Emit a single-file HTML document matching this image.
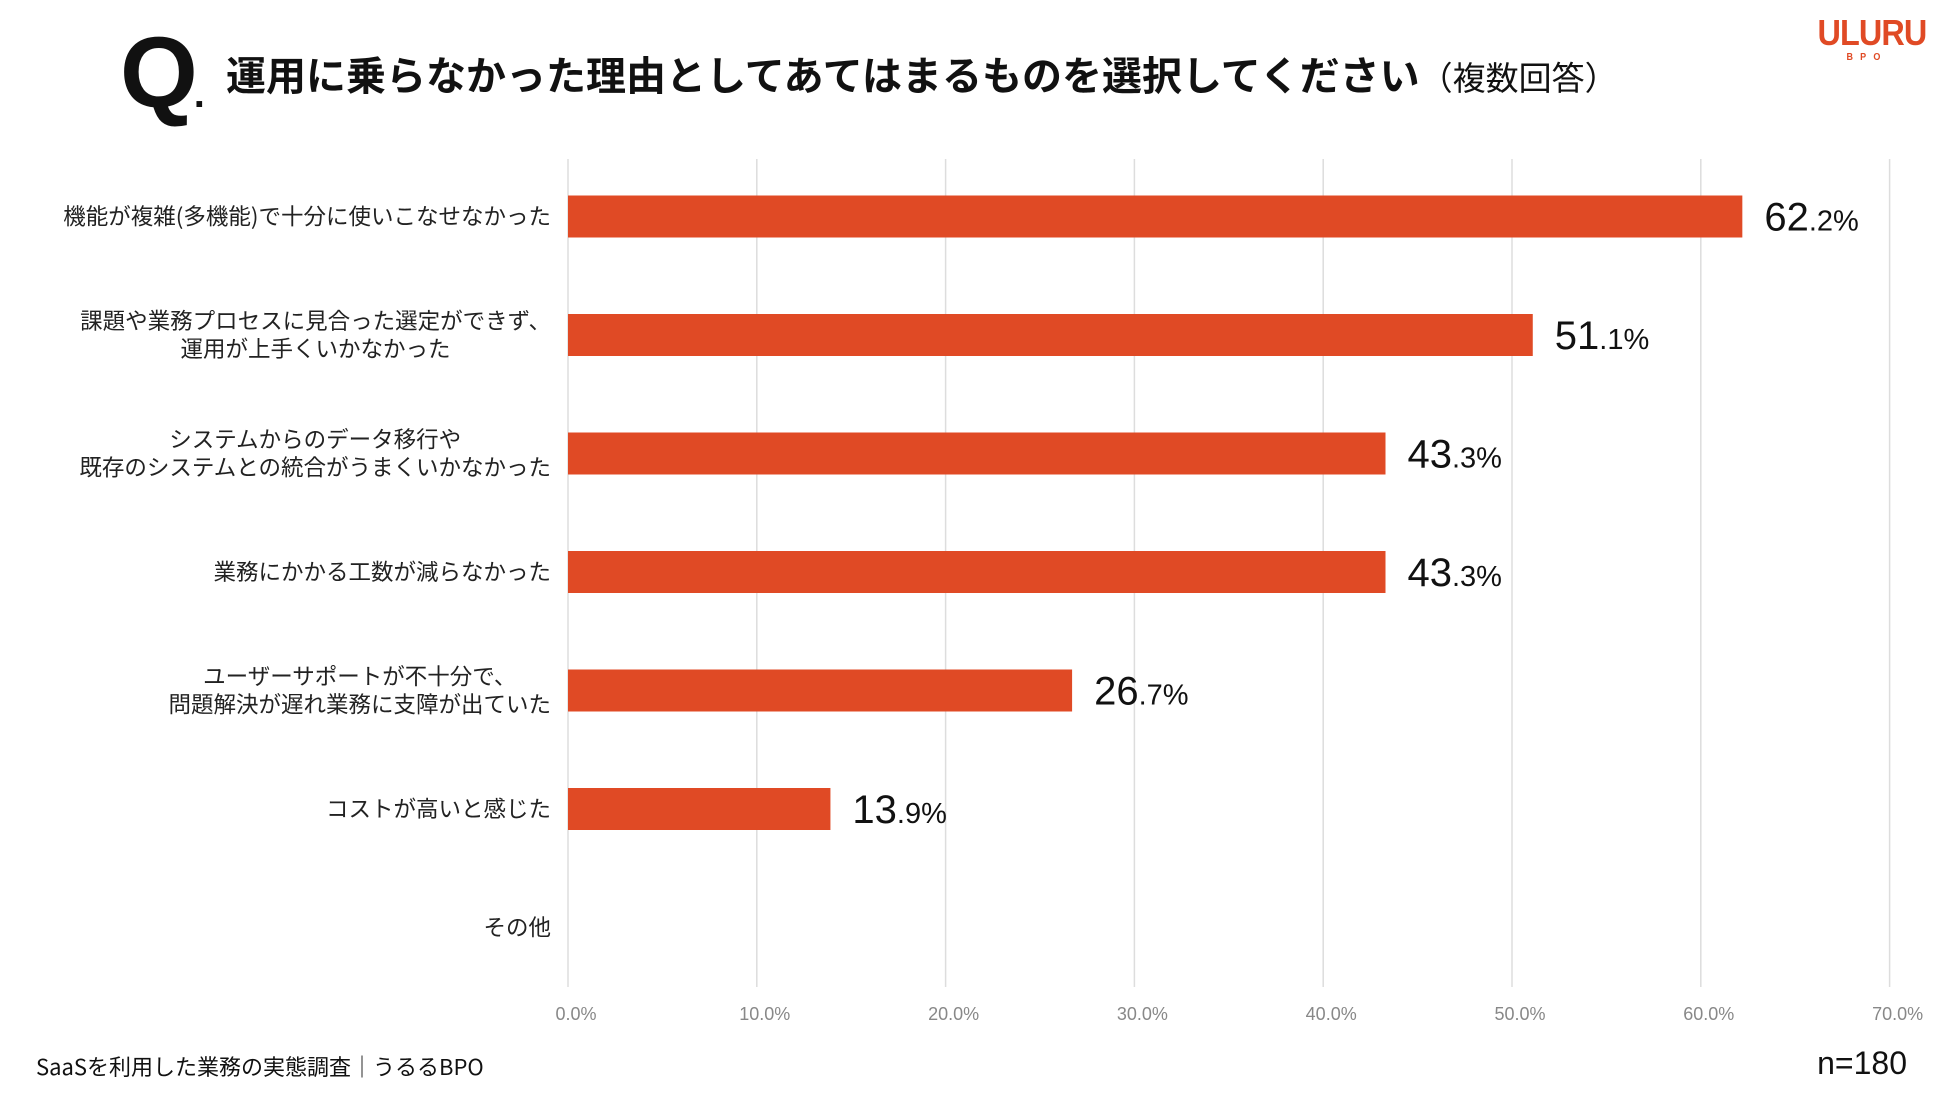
<!DOCTYPE html>
<html><head><meta charset="utf-8">
<style>
body{margin:0;width:1950px;height:1093px;background:#fff;overflow:hidden;font-family:"Liberation Sans","Noto Sans CJK JP",sans-serif;color:#111;position:relative}
.abs{position:absolute;white-space:nowrap}
</style></head><body>
<div class="abs" style="left:120px;top:18px;font-size:100px;font-weight:bold;line-height:110px;letter-spacing:-4px">Q<span style="font-size:40px">.</span></div>
<div class="abs" style="left:226px;top:48px;font-size:40px;font-weight:bold;line-height:50px;font-family:'Noto Sans CJK JP',sans-serif">運用に乗らなかった理由としてあてはまるものを選択してください<span style="font-size:33px;font-weight:normal">（複数回答）</span></div>
<div class="abs" style="left:1812px;top:14px;width:110px;text-align:center;color:#e04a25;font-weight:bold;font-size:36px;line-height:38px;letter-spacing:-1px;transform:scaleX(0.9)">ULURU<div style="font-size:10px;line-height:12px;letter-spacing:8px;font-weight:bold">BPO</div></div>
<svg id="chart" class="abs" style="left:0;top:0" width="1950" height="1093"></svg>
<div class="abs" style="left:36px;top:1052px;font-size:22px;line-height:28px;font-family:'Noto Sans CJK JP',sans-serif">SaaSを利用した業務の実態調査｜うるるBPO</div>
<div class="abs" style="right:43px;top:1045px;font-size:32px;line-height:36px">n=180</div>
<script>
const categories=[["機能が複雑(多機能)で十分に使いこなせなかった"],["課題や業務プロセスに見合った選定ができず、","運用が上手くいかなかった"],["システムからのデータ移行や","既存のシステムとの統合がうまくいかなかった"],["業務にかかる工数が減らなかった"],["ユーザーサポートが不十分で、","問題解決が遅れ業務に支障が出ていた"],["コストが高いと感じた"],["その他"]];
const values=[62.2,51.1,43.3,43.3,26.7,13.9,null];
const ticks=[0,10,20,30,40,50,60,70];
const NS="http://www.w3.org/2000/svg";
const svg=document.getElementById('chart');
const x0=568,pxPer=18.88,top0=159,bot=987,c0=216.5,step=118.5,bh=42;
const xs=v=>x0+v*pxPer;
const ys=i=>c0+i*step;
function mk(t,a){const e=document.createElementNS(NS,t);for(const k in a)e.setAttribute(k,a[k]);svg.appendChild(e);return e;}
ticks.forEach(t=>{
  const l=mk('line',{x1:xs(t),x2:xs(t),y1:top0,y2:bot,stroke:'#dddddd','stroke-width':1.5});
  
  
  const tx=mk('text',{x:xs(t)+8,y:1020,'text-anchor':'middle','font-size':18,fill:'#888','font-family':'Liberation Sans, sans-serif'});
  tx.textContent=t.toFixed(1)+'%';
  
  
});
categories.forEach((c,i)=>{
  const cy=ys(i);
  const els=c.map((line,j)=>{
    const t=mk('text',{x:551,y:cy+8+(j-(c.length-1)/2)*28,'text-anchor':'middle','font-size':22.5,fill:'#222','font-family':'Noto Sans CJK JP, sans-serif'});
    t.textContent=line;
    
    
    return t;
  });
  const w=Math.max(...els.map(e=>e.getComputedTextLength()));
  els.forEach(e=>e.setAttribute('x',551-w/2));
  const v=values[i];
  if(v!=null){
    const r=mk('rect',{x:xs(0),y:cy-bh/2,width:xs(v)-xs(0),height:bh,fill:'#e04a25'});
    
    
    const s=v.toFixed(1).split('.');
    const t=mk('text',{x:xs(v)+22,y:cy+14,'font-size':40,fill:'#111','font-family':'Liberation Sans, sans-serif'});
    
    
    const a=document.createElementNS(NS,'tspan');a.textContent=s[0];t.appendChild(a);
    const b=document.createElementNS(NS,'tspan');b.setAttribute('font-size','29');b.textContent='.'+s[1]+'%';t.appendChild(b);
  }
});
</script>
</body></html>
